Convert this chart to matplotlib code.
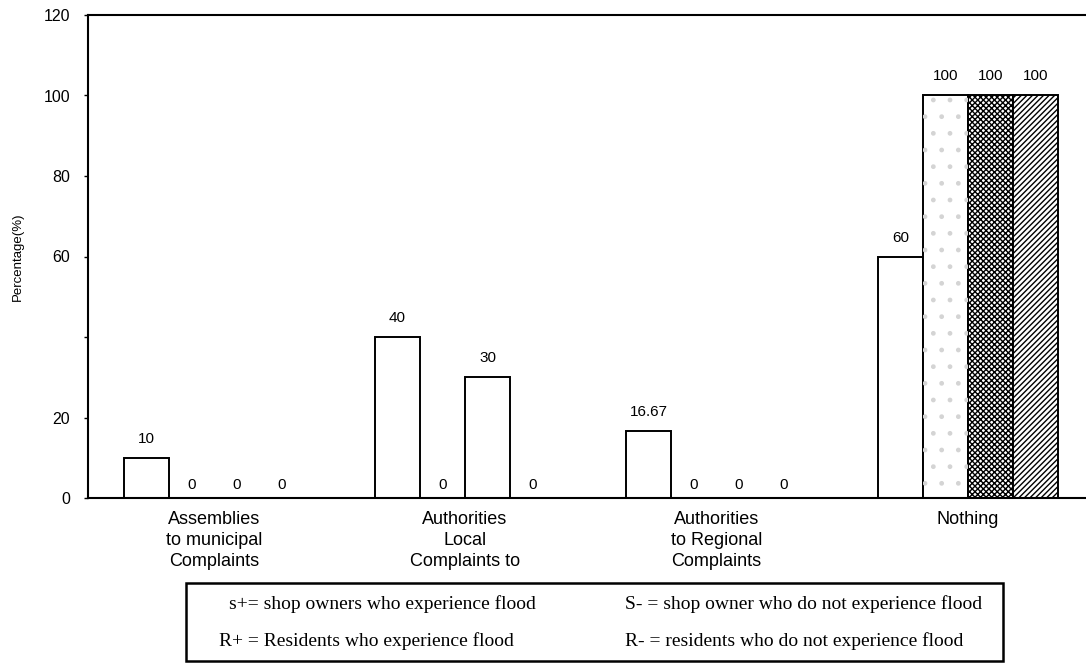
import numpy as np
import matplotlib.pyplot as plt
from matplotlib.patches import Rectangle

# Responses per action taken after flooding (percent of each group)
categories = ['Assemblies\nto municipal\nComplaints',
              'Authorities\nLocal\nComplaints to',
              'Authorities\nto Regional\nComplaints',
              'Nothing']
series_1 = [10, 40, 16.67, 60]
series_2 = [0, 0, 0, 100]
series_3 = [0, 30, 0, 100]
series_4 = [0, 0, 0, 100]
all_series = [series_1, series_2, series_3, series_4]

legend_lines = [
    ('s+= shop owners who experience flood', 'S- = shop owner who do not experience flood'),
    ('R+ = Residents who experience flood', 'R- = residents who do not experience flood'),
]

y_ticks = [0, 20, 40, 60, 80, 100, 120]
y_tick_labels = ['0', '20', '', '60', '80', '100', '120']

# bar fill per series, per group
hatches = [
    ['', '', '', ''],
    ['', '', '', '.'],
    ['', '', '', 'xxxxxx'],
    ['', '', '', '//////'],
]
sans = 'Liberation Sans'
serif = 'Liberation Serif'
W, H = 1086, 663

fig = plt.figure(figsize=(W / 100, H / 100), dpi=100)
ax = fig.add_axes([88 / W, 1 - 498 / H, 998 / W, (498 - 15) / H])

x = np.arange(len(categories))
width = 0.179
offsets = (np.arange(4) - 1.5) * width

for i, values in enumerate(all_series):
    xs = x + offsets[i]
    bars = ax.bar(xs, values, width, color='white',
                  edgecolor='black', linewidth=1.4, zorder=2)
    for b, h in zip(bars, hatches[i]):
        if h == '.':
            # faint stipple
            ax.bar(b.get_x() + b.get_width() / 2, b.get_height(), width,
                   fill=False, edgecolor='#d4d4d4', linewidth=0, hatch='.',
                   zorder=2.5)
        elif h:
            b.set_hatch(h)
    for xi, v in zip(xs, values):
        dy = 19 if v else 13
        ax.annotate(f'{v:g}', (xi, v), xytext=(0, dy * 0.72),
                    textcoords='offset points', ha='center', va='center',
                    fontsize=11, family=sans)

ax.set_xlim(-0.5, 3.47)
ax.set_ylim(0, 120)
ax.set_yticks(y_ticks)
ax.set_yticklabels(y_tick_labels, family=sans, fontsize=11.5)
ax.tick_params(axis='y', length=3, width=1, pad=10)
ax.set_xticks([])
ax.set_ylabel('Percentage(%)', family=sans, fontsize=9.5, labelpad=14)

ax.spines['right'].set_visible(False)
for side in ('left', 'top', 'bottom'):
    ax.spines[side].set_linewidth(1.5)

for xi, cat in zip(x, categories):
    ax.text(xi, -3.2, cat, ha='center', va='top', fontsize=13,
            family=sans, linespacing=1.3, transform=ax.transData)

# key box below the chart
box = Rectangle((186 / W, 1 - 661 / H), (1003 - 186) / W, (661 - 583) / H,
                transform=fig.transFigure, fill=False, edgecolor='black',
                linewidth=1.8)
fig.add_artist(box)
row_y = [604, 641]
for (left_txt, right_txt), ry, lx in zip(legend_lines, row_y, [229, 219]):
    fig.text(lx / W, 1 - ry / H, left_txt, ha='left', va='center',
             fontsize=14, family=serif)
    fig.text(625 / W, 1 - ry / H, right_txt, ha='left', va='center',
             fontsize=14, family=serif)

fig.savefig('out.png', dpi=100)
